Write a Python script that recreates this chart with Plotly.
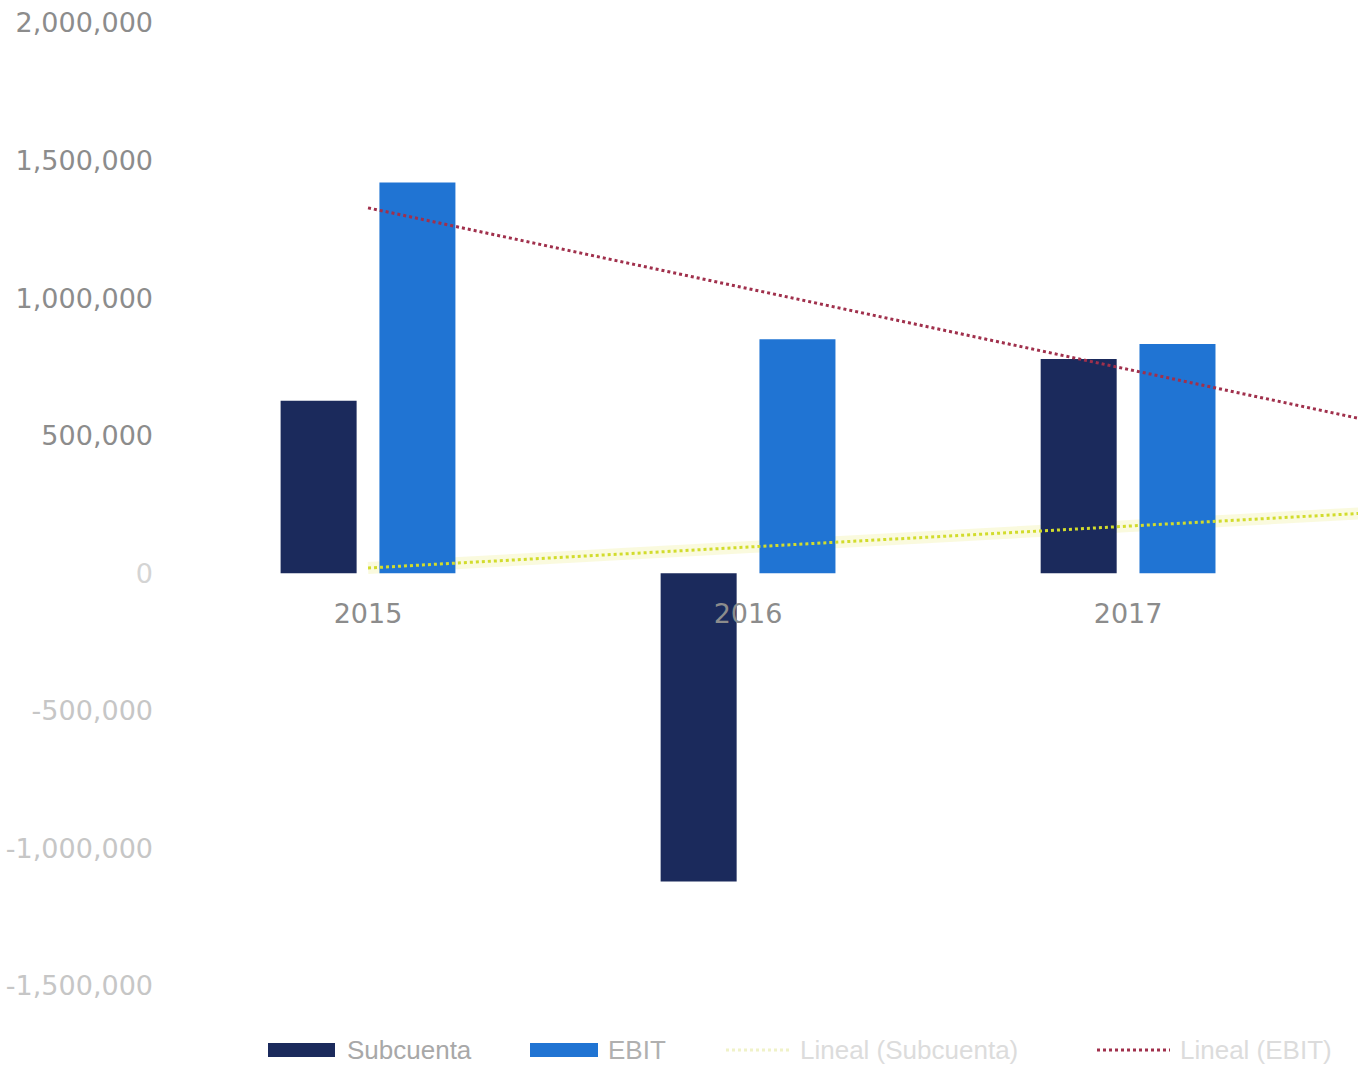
import numpy as np
import plotly.graph_objects as go

# Data
years = ["2015", "2016", "2017"]
subcuenta = [627000, -1120000, 779000]
ebit = [1420000, 851000, 833000]
y_ticks = [2000000, 1500000, 1000000, 500000, 0, -500000, -1000000, -1500000]

positions = np.arange(1, len(years) + 1)

DARK = "#1b2a5c"
BLUE = "#2074d3"
RED = "#a0304c"
YELLOW = "#d2dc2c"

# Plot area geometry (pixels)
W, H = 1358, 1072
M_L, M_R, M_T, M_B = 178, 0, 23, 86
y_min, y_max = -1500000, 2000000
x_lo, x_hi = 0.5, 3.605

fig = go.Figure()


# Linear trendlines, extended one period forward
def trend(values):
    slope, intercept = np.polyfit(positions, values, 1)
    xs = np.array([positions[0], positions[-1] + 1], dtype=float)
    return xs, slope * xs + intercept


tx, ty = trend(subcuenta)
tx2, ty2 = trend(ebit)

# Bars
fig.add_trace(go.Bar(x=positions, y=subcuenta, width=0.2, offset=-0.23,
                     marker=dict(color=DARK, line=dict(width=0)), name="Subcuenta"))
fig.add_trace(go.Bar(x=positions, y=ebit, width=0.2, offset=0.03,
                     marker=dict(color=BLUE, line=dict(width=0)), name="EBIT"))

fig.add_trace(go.Scatter(x=tx, y=ty, mode="lines",
                         line=dict(color=YELLOW, width=3, dash="dot"),
                         name="Lineal (Subcuenta)"))
fig.add_trace(go.Scatter(x=tx2, y=ty2, mode="lines",
                         line=dict(color=RED, width=3, dash="dot"),
                         name="Lineal (EBIT)"))


# Tick labels
def fmt(v):
    s = f"{abs(v):,}"
    return ("-" if v < 0 else "") + s


tick_text = []
for v in y_ticks:
    if v > 0:
        col = "#8c8c8c"
    elif v == 0:
        col = "#d4d4d4"
    else:
        col = "#c6c6c6"
    tick_text.append(f"<span style='color:{col}'>{fmt(v)}</span>")

zero_frac = (0 - y_min) / (y_max - y_min)

# Manual legend along the bottom
plot_w = W - M_L - M_R
plot_h = H - M_T - M_B


def px_x(px):
    return (px - M_L) / plot_w


def px_y(py):
    return 1 - (py - M_T) / plot_h


# soft glow behind the yellow trend, kept under the bars
shapes = [dict(type="line", xref="x", yref="y", layer="below",
               x0=tx[0], y0=ty[0], x1=tx[1], y1=ty[1],
               line=dict(color="rgba(246,246,190,0.5)", width=12))]
annotations = []

leg_y = 1050
legend_items = [
    ("rect", DARK, 268, 335, 345, "Subcuenta", "#a8a8a8"),
    ("rect", BLUE, 530, 598, 606, "EBIT", "#b0b0b0"),
    ("dot", "#f0f2c8", 726, 790, 798, "Lineal (Subcuenta)", "#dcdcdc"),
    ("dot", RED, 1097, 1170, 1178, "Lineal (EBIT)", "#dcdcdc"),
]
for kind, col, x0, x1, tx_px, label, tcol in legend_items:
    if kind == "rect":
        shapes.append(dict(type="rect", xref="paper", yref="paper",
                           x0=px_x(x0), x1=px_x(x1),
                           y0=px_y(leg_y + 7), y1=px_y(leg_y - 7),
                           fillcolor=col, line=dict(width=0)))
    else:
        shapes.append(dict(type="line", xref="paper", yref="paper",
                           x0=px_x(x0), x1=px_x(x1),
                           y0=px_y(leg_y), y1=px_y(leg_y),
                           line=dict(color=col, width=3, dash="dot")))
    annotations.append(dict(xref="paper", yref="paper", x=px_x(tx_px), y=px_y(leg_y),
                            text=label, showarrow=False, xanchor="left", yanchor="middle",
                            font=dict(family="Liberation Sans, Arial, sans-serif",
                                      size=26, color=tcol)))

TICK_FONT = "DejaVu Sans, Liberation Sans, sans-serif"

fig.update_layout(
    width=W, height=H,
    margin=dict(l=M_L, r=M_R, t=M_T, b=M_B),
    paper_bgcolor="white", plot_bgcolor="white",
    font=dict(family="Liberation Sans, Arial, sans-serif", size=26, color="#8c8c8c"),
    barmode="overlay",
    showlegend=False,
    shapes=shapes,
    annotations=annotations,
    xaxis=dict(
        range=[x_lo, x_hi], tickvals=list(positions), ticktext=years,
        showgrid=False, zeroline=False, showline=False,
        anchor="free", position=zero_frac, ticks="",
        ticklabelstandoff=22, tickfont=dict(family=TICK_FONT, size=27, color="#8c8c8c"),
    ),
    yaxis=dict(
        range=[y_min, y_max], tickvals=y_ticks, ticktext=tick_text,
        showgrid=False, zeroline=False, showline=False, ticks="",
        ticklabelstandoff=24, tickfont=dict(family=TICK_FONT, size=27),
    ),
)

fig.write_html("out.html")
